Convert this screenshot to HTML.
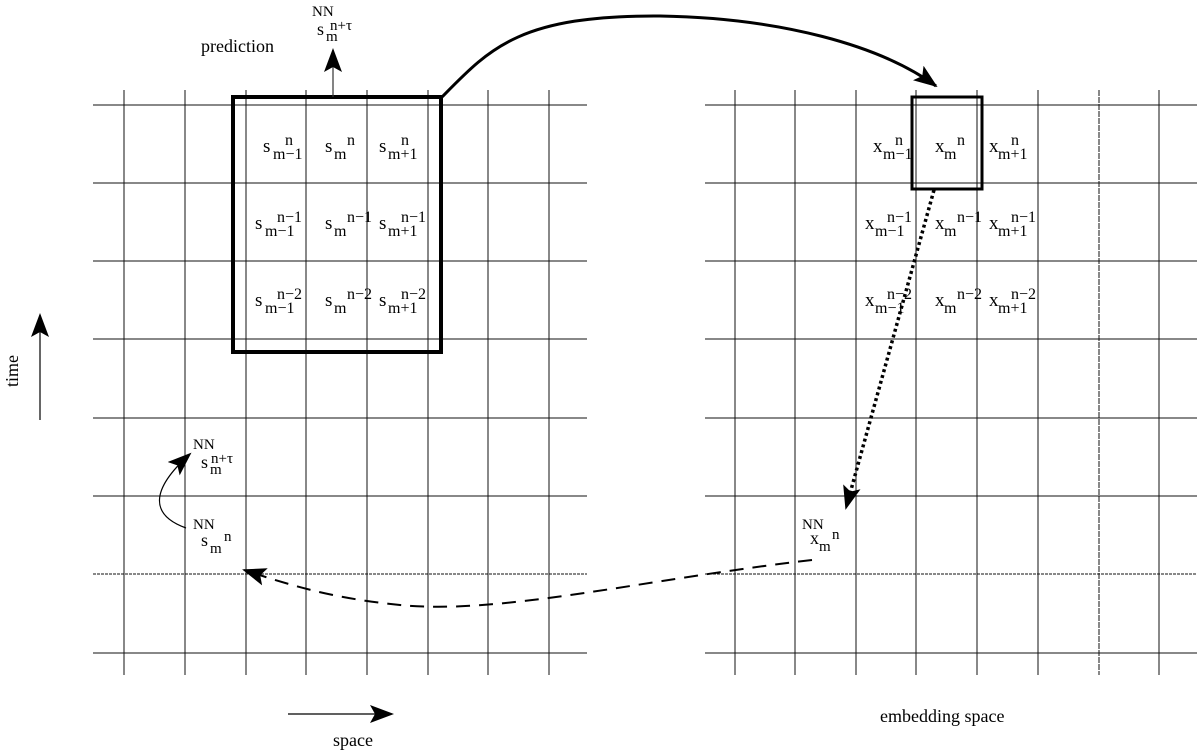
<!DOCTYPE html>
<html><head><meta charset="utf-8"><style>html,body{margin:0;padding:0;background:#fff}svg{display:block}text{font-family:"Liberation Serif",serif;fill:#000}</style></head><body>
<svg width="1200" height="751" viewBox="0 0 1200 751" xmlns="http://www.w3.org/2000/svg">
<defs>
<marker id="ahb" markerWidth="24" markerHeight="18" refX="22" refY="9" orient="auto" markerUnits="userSpaceOnUse"><path d="M0,0 L24,9 L0,18 L5,9 Z"/></marker>
</defs>
<g stroke="#111" stroke-width="1">
<g>
<line x1="93" y1="105" x2="587" y2="105"/><line x1="93" y1="183" x2="587" y2="183"/><line x1="93" y1="261" x2="587" y2="261"/><line x1="93" y1="339" x2="587" y2="339"/><line x1="93" y1="418" x2="587" y2="418"/><line x1="93" y1="496" x2="587" y2="496"/><line x1="93" y1="574" x2="587" y2="574" stroke-dasharray="3,1"/><line x1="93" y1="653" x2="587" y2="653"/>
<line x1="124" y1="90" x2="124" y2="675"/><line x1="185" y1="90" x2="185" y2="675"/><line x1="246" y1="90" x2="246" y2="675"/><line x1="306" y1="90" x2="306" y2="675"/><line x1="367" y1="90" x2="367" y2="675"/><line x1="428" y1="90" x2="428" y2="675"/><line x1="488" y1="90" x2="488" y2="675"/><line x1="549" y1="90" x2="549" y2="675"/>
</g>
<g transform="translate(611,0)">
<line x1="94" y1="105" x2="586" y2="105"/><line x1="94" y1="183" x2="586" y2="183"/><line x1="94" y1="261" x2="586" y2="261"/><line x1="94" y1="339" x2="586" y2="339"/><line x1="94" y1="418" x2="586" y2="418"/><line x1="94" y1="496" x2="586" y2="496"/><line x1="94" y1="574" x2="586" y2="574" stroke-dasharray="3,1"/><line x1="94" y1="653" x2="586" y2="653"/>
<line x1="124" y1="90" x2="124" y2="675"/><line x1="184" y1="90" x2="184" y2="675"/><line x1="245" y1="90" x2="245" y2="675"/><line x1="305" y1="90" x2="305" y2="675"/><line x1="366" y1="90" x2="366" y2="675"/><line x1="427" y1="90" x2="427" y2="675"/><line x1="488" y1="90" x2="488" y2="675" stroke-dasharray="6,1"/><line x1="548" y1="90" x2="548" y2="675"/>
</g>
</g>
<rect x="233" y="97" width="208" height="255" fill="none" stroke="#000" stroke-width="4"/>
<rect x="912" y="97" width="70" height="92" fill="none" stroke="#000" stroke-width="3"/>
<line x1="333" y1="97" x2="333" y2="50" stroke="#333" stroke-width="1.2" marker-end="url(#ahb)"/>
<path d="M442,97 C490,48 520,15 660,16 C780,18 880,45 936,86" fill="none" stroke="#000" stroke-width="3" marker-end="url(#ahb)"/>
<line x1="934" y1="190" x2="846" y2="508" stroke="#000" stroke-width="3.5" stroke-dasharray="3,3" marker-end="url(#ahb)"/>
<path d="M812,560 C640,580 500,615 400,605 C330,598 290,585 244,570" fill="none" stroke="#000" stroke-width="2" stroke-dasharray="14,9" marker-end="url(#ahb)"/>
<path d="M186,528 C150,515 150,490 190,454" fill="none" stroke="#000" stroke-width="1.2" marker-end="url(#ahb)"/>
<line x1="40" y1="420" x2="40" y2="315" stroke="#000" stroke-width="1.2" marker-end="url(#ahb)"/>
<line x1="288" y1="714" x2="392" y2="714" stroke="#000" stroke-width="1.2" marker-end="url(#ahb)"/>
<g font-size="18">
<text x="201" y="52">prediction</text>
<text x="333" y="746">space</text>
<text x="880" y="722">embedding space</text>
<text transform="translate(18,387) rotate(-90)">time</text>
</g>
<g font-size="18">
<text x="312" y="16" font-size="15">NN</text><text x="330" y="30" font-size="15">n+τ</text><text x="317" y="35">s</text><text x="326" y="41" font-size="15">m</text>
<text x="193" y="449" font-size="15">NN</text><text x="211" y="463" font-size="15">n+τ</text><text x="201" y="468">s</text><text x="210" y="474" font-size="15">m</text>
<text x="193" y="529" font-size="15">NN</text><text x="224" y="541" font-size="15">n</text><text x="201" y="546">s</text><text x="210" y="553" font-size="15">m</text>
<text x="802" y="529" font-size="15">NN</text><text x="832" y="539" font-size="15">n</text><text x="810" y="544">x</text><text x="819" y="551" font-size="15">m</text>
</g>
<g font-size="19">
<text x="263" y="152">s</text><text x="273" y="159" font-size="16">m−1</text><text x="285" y="145" font-size="16">n</text>
<text x="325" y="152">s</text><text x="334" y="159" font-size="16">m</text><text x="347" y="145" font-size="16">n</text>
<text x="379" y="152">s</text><text x="388" y="159" font-size="16">m+1</text><text x="401" y="145" font-size="16">n</text>
<text x="255" y="229">s</text><text x="265" y="236" font-size="16">m−1</text><text x="277" y="222" font-size="16">n−1</text>
<text x="325" y="229">s</text><text x="334" y="236" font-size="16">m</text><text x="347" y="222" font-size="16">n−1</text>
<text x="379" y="229">s</text><text x="388" y="236" font-size="16">m+1</text><text x="401" y="222" font-size="16">n−1</text>
<text x="255" y="306">s</text><text x="265" y="313" font-size="16">m−1</text><text x="277" y="299" font-size="16">n−2</text>
<text x="325" y="306">s</text><text x="334" y="313" font-size="16">m</text><text x="347" y="299" font-size="16">n−2</text>
<text x="379" y="306">s</text><text x="388" y="313" font-size="16">m+1</text><text x="401" y="299" font-size="16">n−2</text>
</g>
<g font-size="19" transform="translate(610,0)">
<text x="263" y="152">x</text><text x="273" y="159" font-size="16">m−1</text><text x="285" y="145" font-size="16">n</text>
<text x="325" y="152">x</text><text x="334" y="159" font-size="16">m</text><text x="347" y="145" font-size="16">n</text>
<text x="379" y="152">x</text><text x="388" y="159" font-size="16">m+1</text><text x="401" y="145" font-size="16">n</text>
<text x="255" y="229">x</text><text x="265" y="236" font-size="16">m−1</text><text x="277" y="222" font-size="16">n−1</text>
<text x="325" y="229">x</text><text x="334" y="236" font-size="16">m</text><text x="347" y="222" font-size="16">n−1</text>
<text x="379" y="229">x</text><text x="388" y="236" font-size="16">m+1</text><text x="401" y="222" font-size="16">n−1</text>
<text x="255" y="306">x</text><text x="265" y="313" font-size="16">m−1</text><text x="277" y="299" font-size="16">n−2</text>
<text x="325" y="306">x</text><text x="334" y="313" font-size="16">m</text><text x="347" y="299" font-size="16">n−2</text>
<text x="379" y="306">x</text><text x="388" y="313" font-size="16">m+1</text><text x="401" y="299" font-size="16">n−2</text>
</g>
</svg>
</body></html>
